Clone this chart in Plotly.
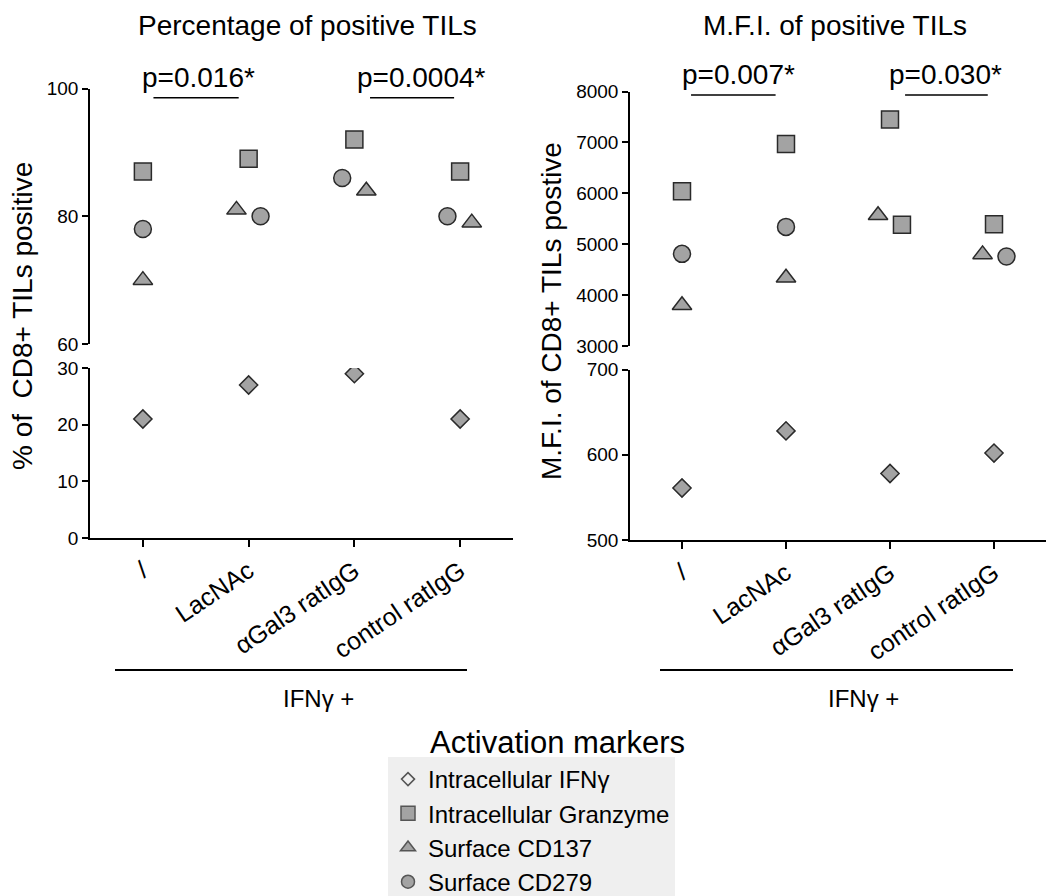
import plotly.graph_objects as go

# ---------------- data ----------------
categories = ["/", "LacNAc", "αGal3 ratIgG", "control ratIgG"]

pct_ifng = [21, 27, 29, 21]
pct_granzyme = [87, 89, 92, 87]
pct_cd137 = [70, 81, 84, 79]
pct_cd279 = [78, 80, 86, 80]

mfi_ifng = [561, 628, 578, 602]
mfi_granzyme = [6040, 6970, 7450, 5390]
mfi_cd137 = [3800, 4340, 5570, 4800]
mfi_cd279 = [4810, 5340, 5380, 4760]

pvals_left = ["p=0.016*", "p=0.0004*"]
pvals_right = ["p=0.007*", "p=0.030*"]

# ---------------- styling ----------------
FONT = "Liberation Sans, Arial, Helvetica, sans-serif"
FILL = "#a3a3a3"
EDGE = "#2a2a2a"
W, H = 1064, 896

# within-category horizontal offsets (jitter), in category units
off_left = {"granzyme": [0, 0, 0, 0], "cd137": [0, -0.115, 0.113, 0.11],
            "cd279": [0, 0.113, -0.115, -0.12], "ifng": [0, 0, 0, 0]}
off_right = {"granzyme": [0, 0, 0, 0], "cd137": [0, 0, -0.115, -0.11],
             "cd279": [0, 0, 0.115, 0.12], "ifng": [0, 0, 0, 0]}
cd279_right_symbols = ["circle", "circle", "square", "circle"]

idx = list(range(len(categories)))


def xs(offs):
    return [i + o for i, o in zip(idx, offs)]


def mk(symbol, size):
    return dict(symbol=symbol, size=size, color=FILL, line=dict(color=EDGE, width=1.5))


fig = go.Figure()

# left panel: top (x2,y2), bottom (x,y)
fig.add_trace(go.Scatter(x=xs(off_left["ifng"]), y=pct_ifng, mode="markers", xaxis="x", yaxis="y",
                         marker=mk("diamond", 14), showlegend=False))
fig.add_trace(go.Scatter(x=xs(off_left["granzyme"]), y=pct_granzyme, mode="markers", xaxis="x2", yaxis="y2",
                         marker=mk("square", 17), showlegend=False))
fig.add_trace(go.Scatter(x=xs(off_left["cd137"]), y=pct_cd137, mode="markers", xaxis="x2", yaxis="y2",
                         marker=mk("triangle-up", 17), showlegend=False))
fig.add_trace(go.Scatter(x=xs(off_left["cd279"]), y=pct_cd279, mode="markers", xaxis="x2", yaxis="y2",
                         marker=mk("circle", 17), showlegend=False))

# right panel: top (x4,y4), bottom (x3,y3)
fig.add_trace(go.Scatter(x=xs(off_right["ifng"]), y=mfi_ifng, mode="markers", xaxis="x3", yaxis="y3",
                         marker=mk("diamond", 14), showlegend=False))
fig.add_trace(go.Scatter(x=xs(off_right["granzyme"]), y=mfi_granzyme, mode="markers", xaxis="x4", yaxis="y4",
                         marker=mk("square", 17), showlegend=False))
fig.add_trace(go.Scatter(x=xs(off_right["cd137"]), y=mfi_cd137, mode="markers", xaxis="x4", yaxis="y4",
                         marker=mk("triangle-up", 17), showlegend=False))
fig.add_trace(go.Scatter(x=xs(off_right["cd279"]), y=mfi_cd279, mode="markers", xaxis="x4", yaxis="y4",
                         marker=dict(symbol=cd279_right_symbols, size=17, color=FILL,
                                     line=dict(color=EDGE, width=1.5)), showlegend=False))

# legend entries
legend_items = [
    ("Intracellular IFNγ", dict(symbol="diamond", size=10, color="#efefef", line=dict(color="#555", width=1.5))),
    ("Intracellular Granzyme", dict(symbol="square", size=14, color=FILL, line=dict(color="#555", width=1.5))),
    ("Surface CD137", dict(symbol="triangle-up", size=13, color=FILL, line=dict(color="#555", width=1.5))),
    ("Surface CD279", dict(symbol="circle", size=13, color=FILL, line=dict(color="#555", width=1.5))),
]
for name, m in legend_items:
    fig.add_trace(go.Scatter(x=[None], y=[None], mode="markers", name=name, marker=m,
                             xaxis="x", yaxis="y", showlegend=True))


def px_x(p):
    return p / W


def px_y(p):
    return 1 - p / H


xr = [-0.5, 3.5]
L_dom = [px_x(90), px_x(513)]
R_dom = [px_x(630), px_x(1046)]

common_y = dict(showline=True, linecolor="black", linewidth=1.5, ticks="outside", ticklen=6,
                tickwidth=1.5, tickcolor="black", showgrid=False, zeroline=False,
                tickfont=dict(family=FONT, size=19, color="black"))
hidden_x = dict(visible=False, range=xr, showgrid=False, zeroline=False)
bottom_x = dict(range=xr, showline=True, linecolor="black", linewidth=1.5, ticks="outside", ticklen=7,
                tickwidth=1.5, tickcolor="black", showgrid=False, zeroline=False,
                tickmode="array", tickvals=idx, ticktext=categories, tickangle=-34,
                tickfont=dict(family=FONT, size=25, color="black"))

fig.update_layout(
    width=W, height=H, margin=dict(l=0, r=0, t=0, b=0, autoexpand=False),
    paper_bgcolor="white", plot_bgcolor="white",
    font=dict(family=FONT, color="black"),
    xaxis=dict(domain=L_dom, anchor="y", **bottom_x),
    yaxis=dict(domain=[px_y(538), px_y(368)], anchor="x", range=[0, 30],
               tickvals=[0, 10, 20, 30], **common_y),
    xaxis2=dict(domain=L_dom, anchor="y2", **hidden_x),
    yaxis2=dict(domain=[px_y(344), px_y(88.5)], anchor="x2", range=[60, 100],
                tickvals=[60, 80, 100], **common_y),
    xaxis3=dict(domain=R_dom, anchor="y3", **bottom_x),
    yaxis3=dict(domain=[px_y(540), px_y(369.5)], anchor="x3", range=[500, 700],
                tickvals=[500, 600, 700], **common_y),
    xaxis4=dict(domain=R_dom, anchor="y4", **hidden_x),
    yaxis4=dict(domain=[px_y(346), px_y(91.5)], anchor="x4", range=[3000, 8000],
                tickvals=[3000, 4000, 5000, 6000, 7000, 8000], **common_y),
    legend=dict(x=px_x(388), y=px_y(757), xanchor="left", yanchor="top",
                bgcolor="#efefef", borderwidth=0, maxheight=300,
                font=dict(family=FONT, size=24, color="black"),
                tracegroupgap=0, itemsizing="trace"),
)

annotations = []
shapes = []

# panel titles
annotations.append(dict(text="Percentage of positive TILs", x=px_x(307), y=px_y(26), xref="paper", yref="paper",
                        showarrow=False, xanchor="center", yanchor="middle",
                        font=dict(family=FONT, size=28, color="black")))
annotations.append(dict(text="M.F.I. of positive TILs", x=px_x(835), y=px_y(26), xref="paper", yref="paper",
                        showarrow=False, xanchor="center", yanchor="middle",
                        font=dict(family=FONT, size=28, color="black")))
# y-axis titles
annotations.append(dict(text="% of  CD8+ TILs positive", x=px_x(22), y=px_y(316), xref="paper", yref="paper",
                        showarrow=False, textangle=-90, xanchor="center", yanchor="middle",
                        font=dict(family=FONT, size=28, color="black")))
annotations.append(dict(text="M.F.I. of CD8+ TILs postive", x=px_x(551), y=px_y(311), xref="paper", yref="paper",
                        showarrow=False, textangle=-90, xanchor="center", yanchor="middle",
                        font=dict(family=FONT, size=28, color="black")))

# p-values and underlines
for txt, cx, (x0, x1), xref, ypx, uy in [
    (pvals_left[0], 0.524, (0.10, 0.906), "x", 77, 97.7),
    (pvals_left[1], 2.632, (2.148, 2.943), "x", 77, 97.7),
    (pvals_right[0], 0.546, (0.087, 0.90), "x3", 75, 95),
    (pvals_right[1], 2.531, (2.145, 2.94), "x3", 75, 95),
]:
    annotations.append(dict(text=txt, x=cx, y=px_y(ypx), xref=xref, yref="paper", showarrow=False,
                            xanchor="center", yanchor="middle",
                            font=dict(family=FONT, size=28, color="black")))
    shapes.append(dict(type="line", xref=xref, yref="paper", x0=x0, x1=x1, y0=px_y(uy), y1=px_y(uy),
                       line=dict(color="black", width=1.5)))

# IFNγ + group lines
for (lx0, lx1), tx in [((115, 467), 318), ((660, 1013), 863)]:
    shapes.append(dict(type="line", xref="paper", yref="paper", x0=px_x(lx0), x1=px_x(lx1),
                       y0=px_y(670), y1=px_y(670), line=dict(color="black", width=2)))
    annotations.append(dict(text="IFNγ +", x=px_x(tx), y=px_y(698), xref="paper", yref="paper",
                            showarrow=False, xanchor="center", yanchor="middle",
                            font=dict(family=FONT, size=24, color="black")))

# legend title
annotations.append(dict(text="Activation markers", x=px_x(557), y=px_y(742), xref="paper", yref="paper",
                        showarrow=False, xanchor="center", yanchor="middle",
                        font=dict(family=FONT, size=31, color="black")))

fig.update_layout(annotations=annotations, shapes=shapes)

fig.write_html("out.html")
